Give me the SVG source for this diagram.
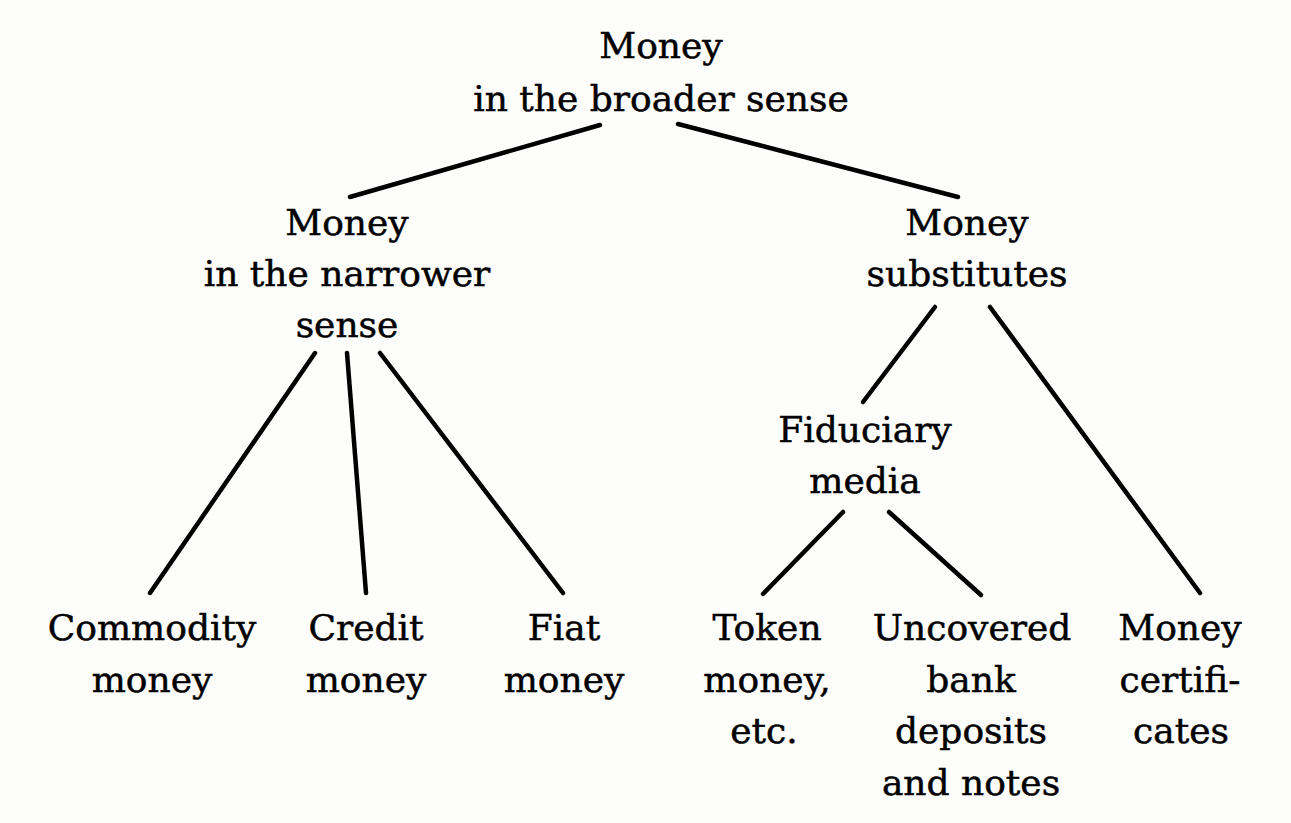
<svg xmlns="http://www.w3.org/2000/svg" width="1291" height="823" viewBox="0 0 1291 823">
<style>
text{font-family:"DejaVu Serif","Liberation Serif",serif;font-size:36px;fill:#000;stroke:#000;stroke-width:0.5;text-anchor:middle}
.c line{stroke:#000;stroke-width:4.5;stroke-linecap:round}
</style>
<rect width="1291" height="823" fill="#fdfdfb"/>
<g class="c" id="connectors">
<line x1="600" y1="125" x2="350" y2="197"/>
<line x1="678" y1="124" x2="958" y2="197"/>
<line x1="315" y1="353" x2="150" y2="593"/>
<line x1="347" y1="353" x2="366" y2="593"/>
<line x1="380" y1="353" x2="563" y2="593"/>
<line x1="935" y1="307" x2="863" y2="402"/>
<line x1="990" y1="307" x2="1200" y2="593"/>
<line x1="843" y1="512" x2="763" y2="594"/>
<line x1="889" y1="512" x2="981" y2="595"/>
</g>
<g id="broader"><text x="661" y="58">Money</text><text x="661" y="111">in the broader sense</text></g>
<g id="narrower"><text x="347" y="235">Money</text><text x="347" y="286">in the narrower</text><text x="347" y="337">sense</text></g>
<g id="substitutes"><text x="967" y="235">Money</text><text x="967" y="286">substitutes</text></g>
<g id="fiduciary"><text x="865" y="442">Fiduciary</text><text x="865" y="493">media</text></g>
<g id="commodity"><text x="152" y="640">Commodity</text><text x="152" y="692">money</text></g>
<g id="credit"><text x="366" y="640">Credit</text><text x="366" y="692">money</text></g>
<g id="fiat"><text x="564" y="640">Fiat</text><text x="564" y="692">money</text></g>
<g id="token"><text x="767" y="640">Token</text><text x="767" y="692">money,</text><text x="764" y="743">etc.</text></g>
<g id="uncovered"><text x="972" y="640">Uncovered</text><text x="971" y="692">bank</text><text x="971" y="743">deposits</text><text x="971" y="795">and notes</text></g>
<g id="certificates"><text x="1180" y="640">Money</text><text x="1180" y="692">certifi-</text><text x="1181" y="743">cates</text></g>
</svg>
